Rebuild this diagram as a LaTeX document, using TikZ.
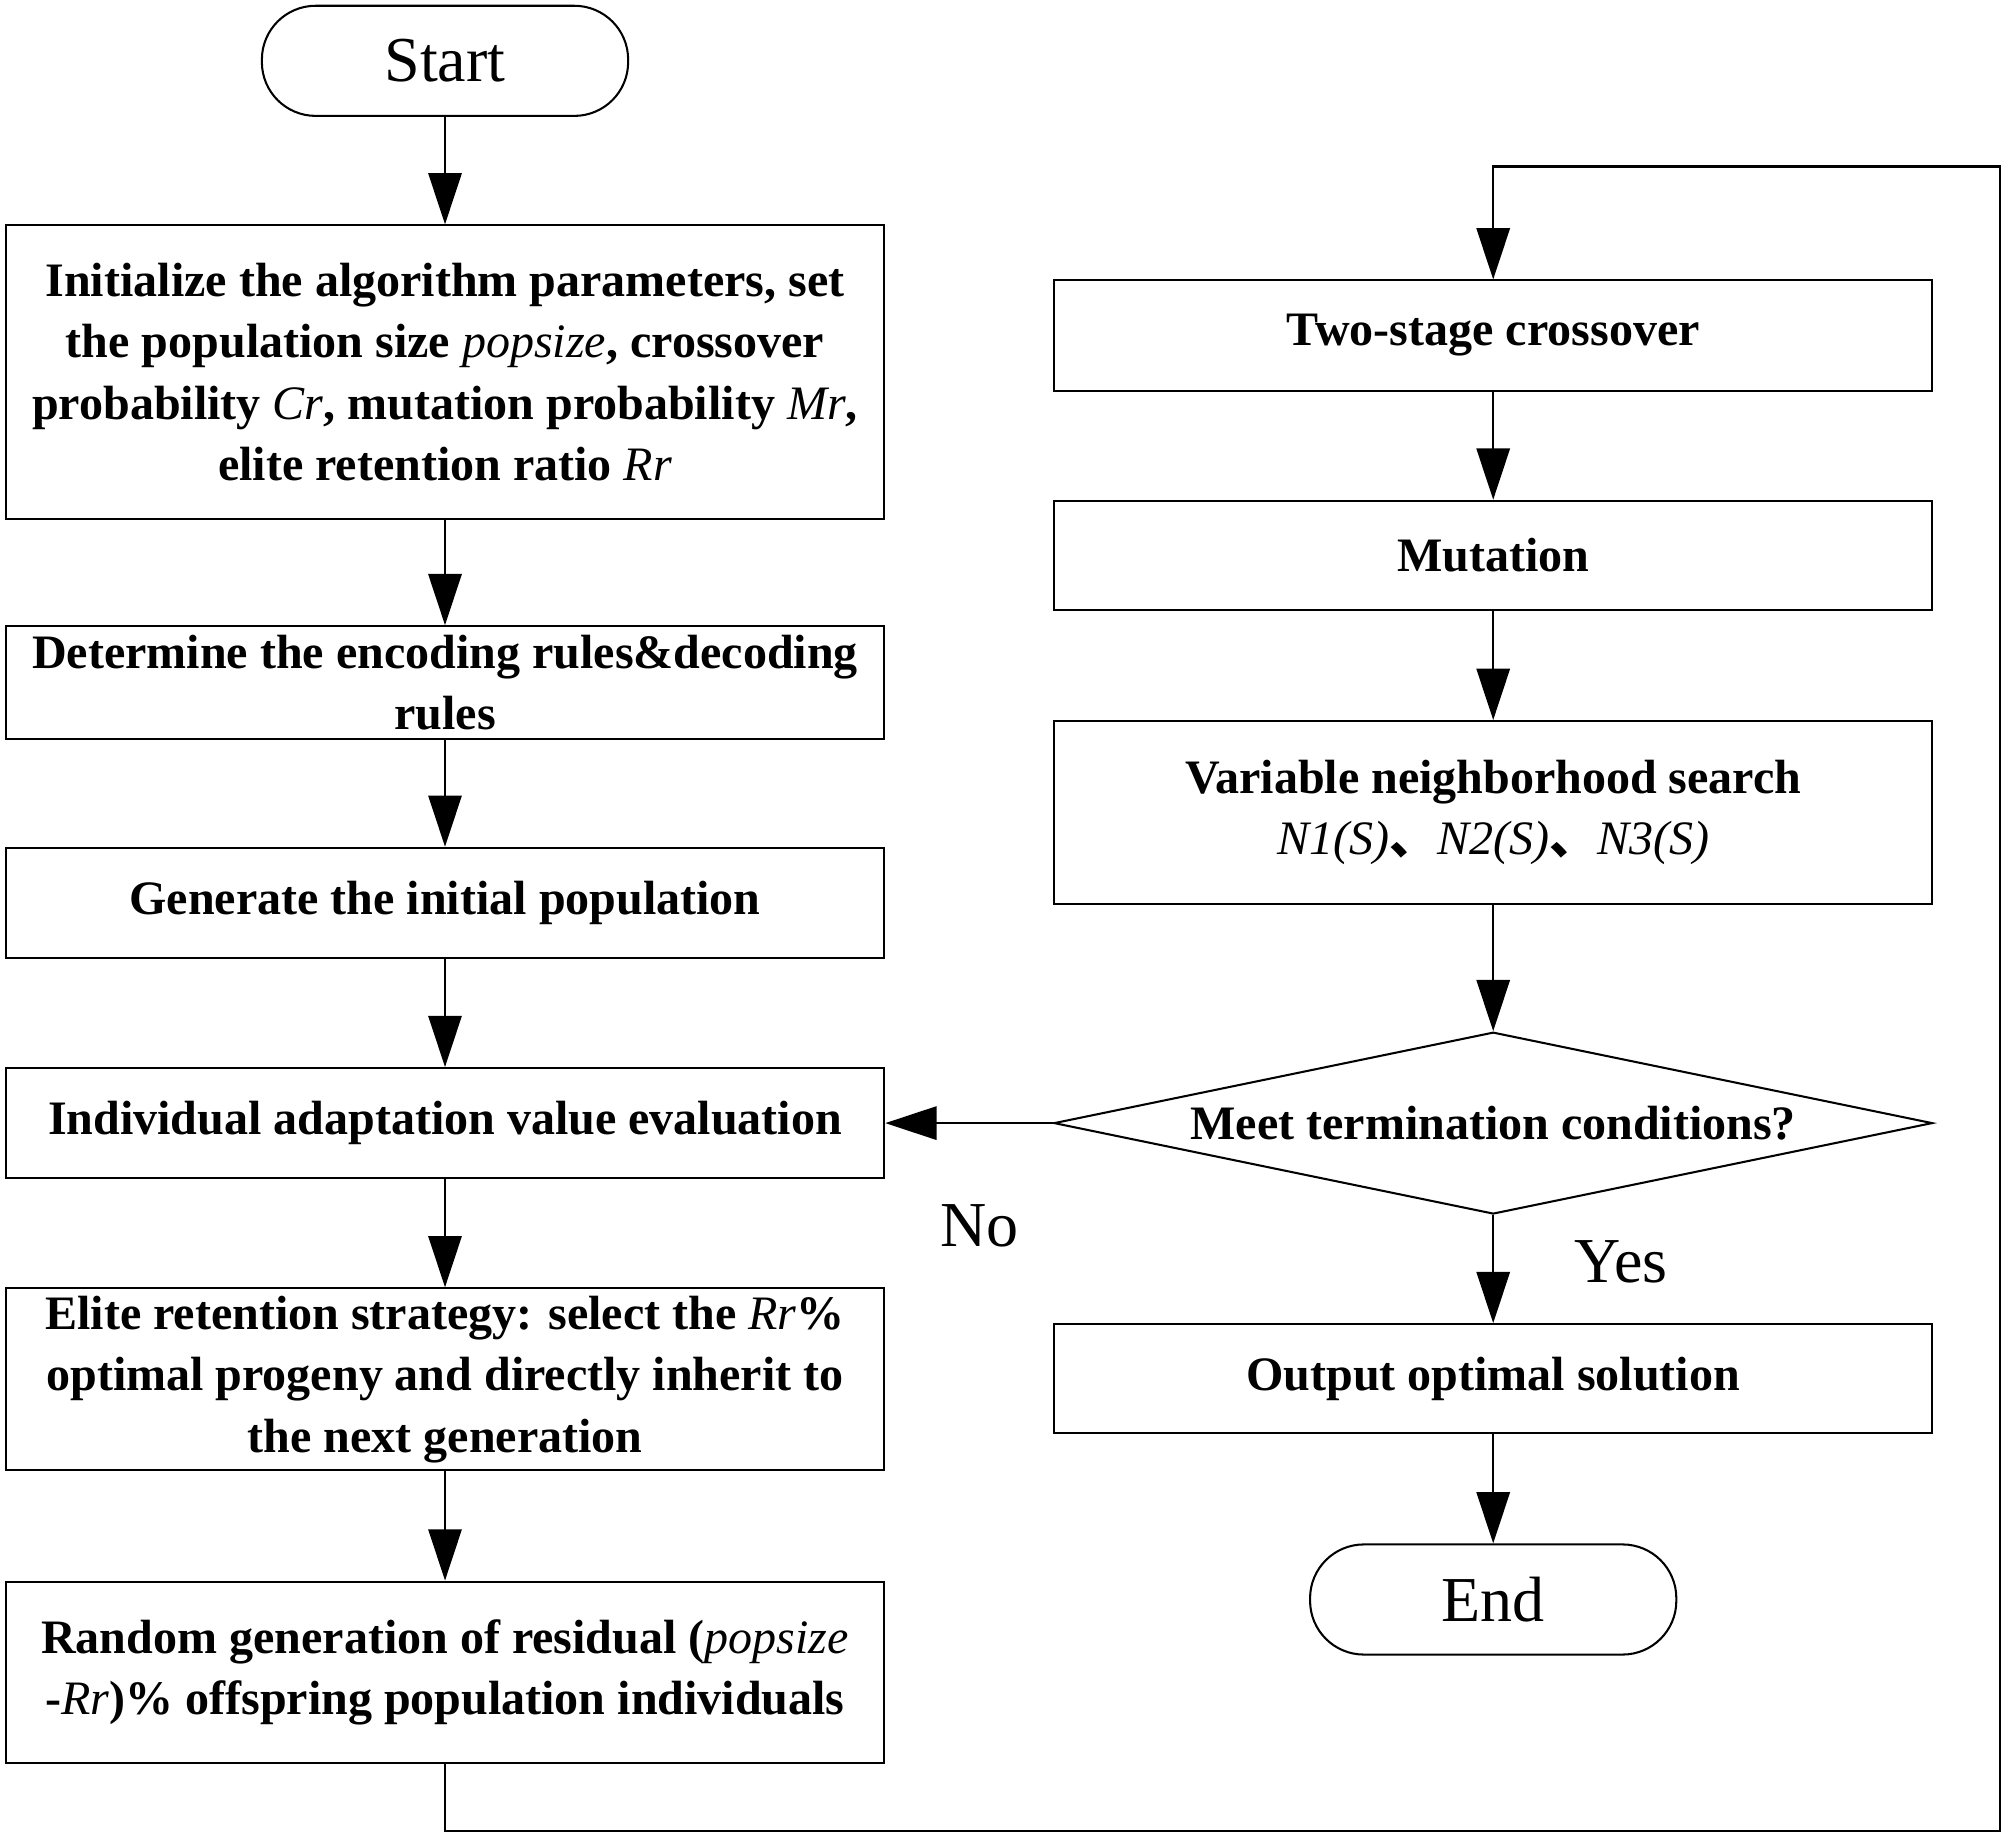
\documentclass[tikz,border=0pt]{standalone}
\usepackage{fontspec}
\setmainfont{Liberation Serif}
\newfontfamily\cjk{Noto Sans CJK SC}
\usetikzlibrary{arrows.meta,shapes.geometric}
\newcommand{\vi}[1]{{\mdseries\itshape #1}}
\tikzset{
  box/.style={draw, line width=1.6pt, minimum width=686pt, inner sep=0pt, align=center,
    font=\fontsize{37.5}{48}\selectfont\bfseries},
  term/.style={draw, line width=1.6pt, rounded corners=42pt, minimum width=286pt, minimum height=86pt,
    inner sep=0pt, font=\fontsize{50}{56}\selectfont},
  dec/.style={draw, diamond, shape aspect=4.83, line width=1.6pt, minimum width=686pt, minimum height=142pt, inner sep=0pt,
    font=\fontsize{37.5}{48}\selectfont\bfseries},
  arr/.style={line width=1.6pt, -{Triangle[length=40pt,width=26pt]}},
  lbl/.style={font=\fontsize{50}{56}\selectfont, inner sep=0pt}
}
\begin{document}
\begin{tikzpicture}[x=1pt,y=-1pt]
\useasboundingbox (0,0) rectangle (1568,1437);
% left column
\node[term] (start) at (347.5,47.5) {Start};
\node[box, minimum height=229pt] (init) at (347.5,290.5) {Initialize the algorithm parameters, set\\the population size \vi{popsize}, crossover\\probability \vi{Cr}, mutation probability \vi{Mr},\\elite retention ratio \vi{Rr}};
\node[box, minimum height=88pt] (enc) at (347.5,533) {Determine the encoding rules\&decoding\\rules};
\node[box, minimum height=86pt] (gen) at (347.5,705) {Generate the initial population};
\node[box, minimum height=86pt] (eval) at (347.5,877) {Individual adaptation value evaluation};
\node[box, minimum height=142pt] (elite) at (347.5,1077) {Elite retention strategy: select the \vi{Rr}\%\\optimal progeny and directly inherit to\\the next generation};
\node[box, minimum height=142pt] (rand) at (347.5,1306) {Random generation of residual (\vi{popsize}\\-\vi{Rr})\% offspring population individuals};
% right column
\node[box, minimum height=86pt] (cross) at (1166,262) {Two-stage crossover};
\node[box, minimum height=85pt] (mut) at (1166,433.5) {Mutation};
\node[box, minimum height=143pt] (vns) at (1166,634.5) {Variable neighborhood search\\\vi{N1(S)}{\cjk 、}\vi{N2(S)}{\cjk 、}\vi{N3(S)}};
\node[dec] (cond) at (1166,877) {Meet termination conditions?};
\node[box, minimum height=85pt] (out) at (1166,1076.5) {Output optimal solution};
\node[term] (end) at (1166,1249) {End};
% labels
\node[lbl] (no) at (765,957) {No};
\node[lbl] (yes) at (1266,985) {Yes};
% connectors
\draw[arr] (start) -- (init);
\draw[arr] (init) -- (enc);
\draw[arr] (enc) -- (gen);
\draw[arr] (gen) -- (eval);
\draw[arr] (eval) -- (elite);
\draw[arr] (elite) -- (rand);
\coordinate (c1) at (1562,1430);
\coordinate (c2) at (1562,130);
\draw[arr] (rand.south) |- (c1) -- (c2) -| (cross.north);
\draw[arr] (cross) -- (mut);
\draw[arr] (mut) -- (vns);
\draw[arr] (vns) -- (cond);
\draw[arr] (cond.west) -- (eval.east);
\draw[arr] (cond.south) -- (out);
\draw[arr] (out) -- (end);
\end{tikzpicture}
\end{document}
